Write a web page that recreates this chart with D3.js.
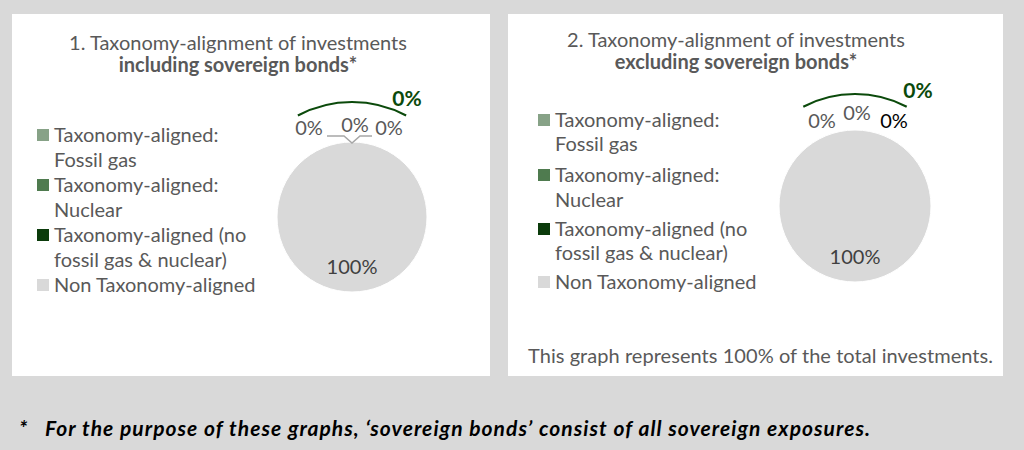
<!DOCTYPE html>
<html>
<head>
<meta charset="utf-8">
<script src="https://cdn.jsdelivr.net/npm/d3@7"></script>
<style>
  html, body { margin: 0; padding: 0; background: #d9d9d9; }
  svg { display: block; }
  text { font-family: Lato, "Open Sans", sans-serif; }
</style>
</head>
<body>
<svg id="chart" width="1024" height="450"></svg>
<script>
// ---------- data ----------
const chartTitles = ["1. Taxonomy-alignment of investments", "2. Taxonomy-alignment of investments"];
const chartSubtitles = ["including sovereign bonds*", "excluding sovereign bonds*"];
const categories = [
  "Taxonomy-aligned: Fossil gas",
  "Taxonomy-aligned: Nuclear",
  "Taxonomy-aligned (no fossil gas & nuclear)",
  "Non Taxonomy-aligned"
];
const legendLines = [
  ["Taxonomy-aligned:", "Fossil gas"],
  ["Taxonomy-aligned:", "Nuclear"],
  ["Taxonomy-aligned (no", "fossil gas & nuclear)"],
  ["Non Taxonomy-aligned"]
];
const valuesIncluding = [0, 0, 0, 100];
const valuesExcluding = [0, 0, 0, 100];
const alignedTotals = [0, 0];
const coverageNote = "This graph represents 100% of the total investments.";
const footnote = "For the purpose of these graphs, \u2018sovereign bonds\u2019 consist of all sovereign exposures.";

// ---------- style / layout ----------
const colors = d3.scaleOrdinal().domain(categories)
  .range(["#87a287", "#4f7b4f", "#0b3b0b", "#d9d9d9"]);
const textGray = "#595959";
const darkGreen = "#0b4a0b";
const fs = 20;

const panels = [
  { x: 12, y: 14, w: 478, h: 362, cx: 352, cy: 217, r: 75, titleX: 238, t1: 50, t2: 72,
    legX: 37, legY: [142, 167, 192, 217, 242, 267, 292],
    labelOff: [[-43, -82], [3, -85], [37, -82]], leader: true,
    totalOff: [55, -111], arcR: 115, arcA: 0.49 },
  { x: 508, y: 14, w: 495, h: 362, cx: 855, cy: 206, r: 76, titleX: 736, t1: 47, t2: 69,
    legX: 538, legY: [127, 151, 182, 207, 236, 260, 289],
    labelOff: [[-33, -78], [2, -86], [39, -78]], leader: false,
    totalOff: [63, -108], arcR: 112, arcA: 0.48 }
];
const seriesValues = [valuesIncluding, valuesExcluding];

const svg = d3.select("#chart");
svg.append("rect").attr("width", 1024).attr("height", 450).attr("fill", "#d9d9d9");

const pct = v => d3.format(".0%")(v / 100);
const pie = d3.pie().sort(null).value(d => d.value);

panels.forEach((p, pi) => {
  const g = svg.append("g");
  g.append("rect").attr("x", p.x).attr("y", p.y).attr("width", p.w).attr("height", p.h)
    .attr("fill", "#ffffff");

  g.append("text").attr("x", p.titleX).attr("y", p.t1).attr("text-anchor", "middle")
    .attr("font-size", fs).attr("fill", textGray).text(chartTitles[pi]);
  g.append("text").attr("x", p.titleX).attr("y", p.t2).attr("text-anchor", "middle")
    .attr("font-size", fs).attr("font-weight", "bold").attr("fill", textGray).text(chartSubtitles[pi]);

  // legend
  let li = 0;
  legendLines.forEach((lines, ci) => {
    g.append("rect").attr("x", p.legX).attr("y", p.legY[li] - 13).attr("width", 12).attr("height", 12)
      .attr("fill", colors(categories[ci]));
    lines.forEach(line => {
      g.append("text").attr("x", p.legX + 17).attr("y", p.legY[li])
        .attr("font-size", fs).attr("fill", textGray).text(line);
      li++;
    });
  });

  // pie
  const data = categories.map((c, i) => ({ cat: c, value: seriesValues[pi][i] }));
  const arcs = pie(data);
  const arc = d3.arc().innerRadius(0).outerRadius(p.r);
  const pg = g.append("g").attr("transform", `translate(${p.cx},${p.cy})`);
  pg.selectAll("path.slice").data(arcs).join("path").attr("class", "slice")
    .attr("d", arc).attr("fill", d => colors(d.data.cat))
    .attr("stroke", "#ffffff").attr("stroke-width", d => d.endAngle > d.startAngle ? 1 : 0);

  // big slice label (inside)
  const labelArc = d3.arc().innerRadius(p.r * 0.68).outerRadius(p.r * 0.68);
  arcs.forEach((a, i) => {
    if (a.value > 0) {
      const [lx, ly] = labelArc.centroid(a);
      pg.append("text").attr("x", lx).attr("y", ly + 6).attr("text-anchor", "middle")
        .attr("font-size", fs).attr("fill", "#404040").text(pct(a.value));
    }
  });

  // zero-slice labels (outside, top)
  let zi = 0;
  arcs.forEach((a, i) => {
    if (a.value === 0 && zi < p.labelOff.length) {
      const [ox, oy] = p.labelOff[zi];
      pg.append("text").attr("x", ox).attr("y", oy).attr("text-anchor", "middle")
        .attr("font-size", fs).attr("fill", i === 2 && !p.leader ? "#000000" : textGray)
        .text(pct(a.value));
      zi++;
    }
  });

  if (p.leader) {
    const yTop = -p.r;
    pg.append("path")
      .attr("d", d3.line()([[-25, yTop - 6], [-8, yTop - 6], [0, yTop + 1], [8, yTop - 6], [20, yTop - 6]]))
      .attr("fill", "none").attr("stroke", "#a6a6a6").attr("stroke-width", 1.5);
  }

  // bracket arc for total aligned
  const bracket = d3.arc().innerRadius(p.arcR).outerRadius(p.arcR)
    .startAngle(-p.arcA).endAngle(p.arcA);
  pg.append("path").attr("d", bracket()).attr("fill", "none")
    .attr("stroke", darkGreen).attr("stroke-width", 2.2);
  pg.append("text").attr("x", p.totalOff[0]).attr("y", p.totalOff[1]).attr("text-anchor", "middle")
    .attr("font-size", fs + 1).attr("font-weight", "bold").attr("fill", darkGreen)
    .text(pct(alignedTotals[pi]));
});

// coverage note (right panel)
svg.append("text").attr("x", 528).attr("y", 363).attr("font-size", fs)
  .attr("textLength", 465).attr("lengthAdjust", "spacing")
  .attr("fill", textGray).text(coverageNote);

// footnote
svg.append("text").attr("x", 19).attr("y", 436).attr("font-size", fs + 1)
  .attr("font-weight", "bold").attr("font-style", "italic").attr("fill", "#000").text("*");
svg.append("text").attr("x", 45).attr("y", 436).attr("font-size", fs + 1)
  .attr("textLength", 825).attr("lengthAdjust", "spacing")
  .attr("font-weight", "bold").attr("font-style", "italic").attr("fill", "#000").text(footnote);
</script>
</body>
</html>
